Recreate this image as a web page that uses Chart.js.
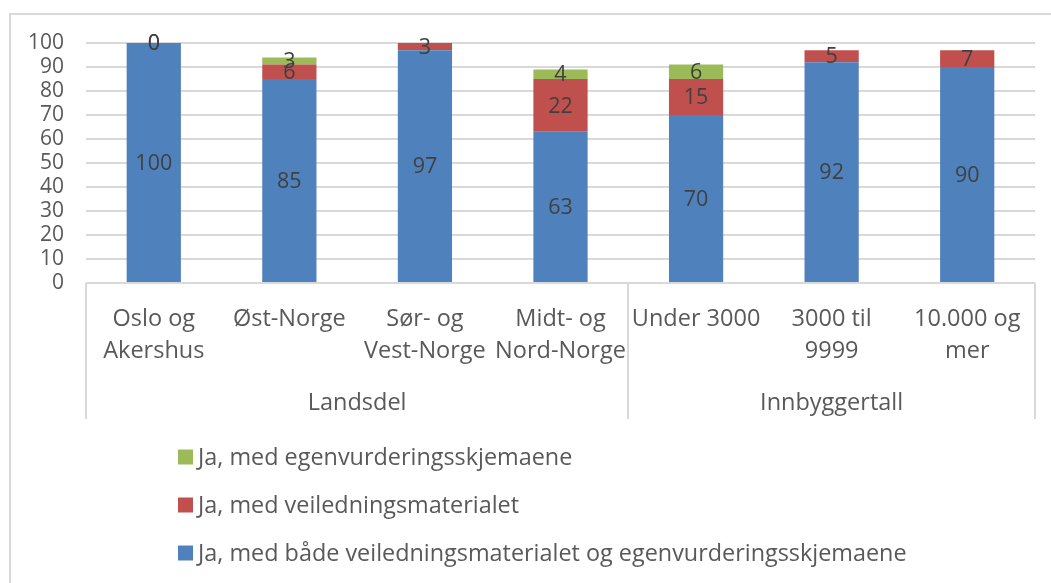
<!DOCTYPE html>
<html>
<head>
<meta charset="utf-8">
<script src="https://cdn.jsdelivr.net/npm/chart.js@4/dist/chart.umd.min.js"></script>
<style>
  html, body { margin: 0; padding: 0; background: #fff; }
  #wrap { width: 1051px; height: 583px; position: relative; }
</style>
</head>
<body>
<div id="wrap"><canvas id="c" width="1051" height="583"></canvas></div>
<script>
const categories = [
  ['Oslo og', 'Akershus'],
  ['Øst-Norge'],
  ['Sør- og', 'Vest-Norge'],
  ['Midt- og', 'Nord-Norge'],
  ['Under 3000'],
  ['3000 til', '9999'],
  ['10.000 og', 'mer']
];
const groups = ['Landsdel', 'Innbyggertall'];
const groupSpans = [[0, 3], [4, 6]];
const seriesNames = [
  'Ja, med både veiledningsmaterialet og egenvurderingsskjemaene',
  'Ja, med veiledningsmaterialet',
  'Ja, med egenvurderingsskjemaene'
];
const bothValues = [100, 85, 97, 63, 70, 92, 90];
const guideValues = [0, 6, 3, 22, 15, 5, 7];
const selfValues = [0, 3, null, 4, 6, null, null];
const yTicks = [0, 10, 20, 30, 40, 50, 60, 70, 80, 90, 100];

const FONT = '"Open Sans", "Noto Sans", sans-serif';
const colors = ['#4F81BD', '#C0504D', '#9BBB59'];
const lineColor = '#d9d9d9';

const framePlugin = {
  id: 'frame',
  beforeDraw(chart) {
    const ctx = chart.ctx;
    ctx.save();
    ctx.strokeStyle = lineColor;
    ctx.lineWidth = 2;
    ctx.beginPath();
    ctx.moveTo(10, 583);
    ctx.lineTo(10, 14);
    ctx.lineTo(1051, 14);
    ctx.stroke();
    ctx.restore();
  },
  afterDraw(chart) {
    const ctx = chart.ctx;
    const x = chart.scales.x;
    const area = chart.chartArea;
    const bottom = x.bottom;
    ctx.save();
    ctx.strokeStyle = lineColor;
    ctx.lineWidth = 2;
    const half = (x.getPixelForValue(1) - x.getPixelForValue(0)) / 2;
    const edges = [area.left];
    groupSpans.forEach(s => edges.push(x.getPixelForValue(s[1]) + half));
    ctx.beginPath();
    edges.forEach(e => {
      const ex = Math.round(e);
      ctx.moveTo(ex, area.bottom);
      ctx.lineTo(ex, bottom);
    });
    ctx.moveTo(area.left, area.bottom);
    ctx.lineTo(area.right, area.bottom);
    ctx.stroke();
    // group labels
    ctx.fillStyle = '#595959';
    ctx.font = '23.5px ' + FONT;
    ctx.textAlign = 'center';
    ctx.textBaseline = 'middle';
    groups.forEach((g, i) => {
      const l = x.getPixelForValue(groupSpans[i][0]) - half;
      const r = x.getPixelForValue(groupSpans[i][1]) + half;
      ctx.fillText(g, (l + r) / 2, 403);
    });
    // data labels
    ctx.fillStyle = '#404040';
    ctx.font = '21.5px ' + FONT;
    chart.data.datasets.forEach((ds, di) => {
      const meta = chart.getDatasetMeta(di);
      meta.data.forEach((el, i) => {
        const v = ds.data[i];
        if (v === null || v === undefined) return;
        const p = el.getProps(['x', 'y', 'base'], true);
        ctx.fillText(String(v), p.x, (p.y + p.base) / 2 + 1);
      });
    });
    // legend
    ctx.textAlign = 'left';
    ctx.font = '23.4px ' + FONT;
    const order = [2, 1, 0];
    order.forEach((di, k) => {
      const cy = 457 + k * 48;
      ctx.fillStyle = chart.data.datasets[di].backgroundColor;
      ctx.fillRect(178, cy - 7.5, 15, 15);
      ctx.fillStyle = '#595959';
      ctx.fillText(chart.data.datasets[di].label, 198, cy + 1);
    });
    ctx.restore();
  }
};

new Chart(document.getElementById('c'), {
  type: 'bar',
  data: {
    labels: categories,
    datasets: [
      { label: seriesNames[0], data: bothValues, backgroundColor: colors[0] },
      { label: seriesNames[1], data: guideValues, backgroundColor: colors[1] },
      { label: seriesNames[2], data: selfValues, backgroundColor: colors[2] }
    ]
  },
  options: {
    responsive: false,
    animation: false,
    devicePixelRatio: 1,
    layout: { padding: { left: 0, top: 43, right: 16, bottom: 164 } },
    plugins: { legend: { display: false }, tooltip: { enabled: false } },
    datasets: { bar: { categoryPercentage: 1, barPercentage: 0.4 } },
    scales: {
      x: {
        stacked: true,
        grid: { display: false, drawTicks: false },
        border: { display: false },
        ticks: {
          autoSkip: false, maxRotation: 0, minRotation: 0,
          color: '#595959', padding: 20,
          font: { family: FONT, size: 23.5, lineHeight: '32px' }
        },
        afterFit(s) { s.height = 136; }
      },
      y: {
        stacked: true,
        min: 0, max: 100,
        afterBuildTicks(s) { s.ticks = yTicks.map(v => ({ value: v })); },
        grid: { color: lineColor, lineWidth: 2, drawTicks: false },
        border: { display: false },
        ticks: {
          autoSkip: false, stepSize: 10,
          color: '#595959', padding: 22,
          font: { family: FONT, size: 21 }
        },
        afterFit(s) { s.width = 86; }
      }
    }
  },
  plugins: [framePlugin]
});
</script>
</body>
</html>
